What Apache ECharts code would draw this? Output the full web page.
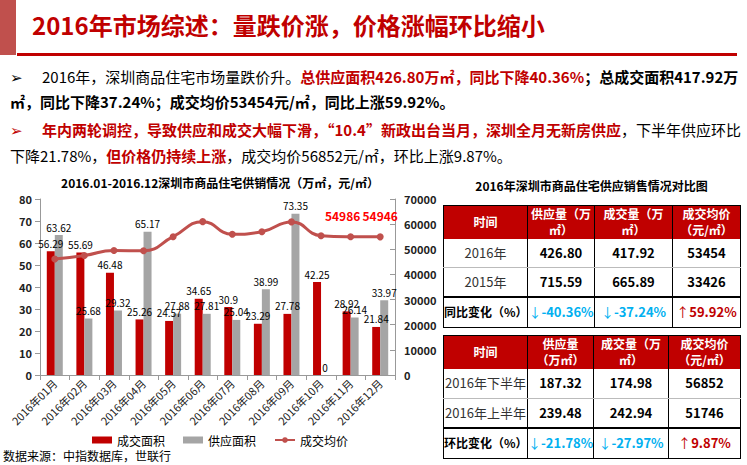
<!DOCTYPE html>
<html>
<head>
<meta charset="utf-8">
<script src="https://cdn.jsdelivr.net/npm/echarts@6/dist/echarts.min.js"></script>
<style>
  html, body { margin:0; padding:0; }
  body { width:747px; height:465px; position:relative; overflow:hidden; background:#fff;
         font-family:"Noto Sans CJK SC","Noto Sans",sans-serif; color:#000; }
  .abs { position:absolute; }
  .line { position:absolute; white-space:nowrap; font-size:15px; line-height:26px; }
  .r { color:#C00000; font-weight:bold; }
  .b { font-weight:bold; }
  table { position:absolute; border-collapse:collapse; table-layout:fixed; }
  td { text-align:center; vertical-align:middle; padding:0; white-space:nowrap; overflow:hidden;
       border-left:1px solid #000; border-right:1px solid #000; }
  tr.hd td { background:#C00000; color:#fff; font-weight:bold; font-size:12px; line-height:16px; border-top:1px solid #000; }
  tr.body td { border-bottom:1px solid #bbb; font-size:13px; line-height:16px; }
  tr.body td.lab { color:#333; }
  tr.body td.val { font-weight:bold; }
  tr.chg td { border-top:2px solid #000; border-bottom:1px solid #000; font-weight:bold; font-size:12px; line-height:16px; }
  td.dn { color:#00B0F0; font-size:13px !important; }
  td.up { color:#C00000; font-size:13px !important; }
  td.dn span, td.up span { font-weight:normal; }
</style>
</head>
<body>
<div class="abs" style="left:0;top:0;width:16px;height:55px;background:#C0504D;"></div>
<div class="abs" style="left:32px;top:8px;font-size:24px;font-weight:bold;color:#C00000;white-space:nowrap;line-height:34px;">2016年市场综述：量跌价涨，价格涨幅环比缩小</div>
<div class="abs" style="left:17px;top:53px;width:720px;height:3px;background:#C00000;"></div>

<div class="line" style="left:10px;top:64px;"><span style="display:inline-block;width:32px;">➢</span>2016年，深圳商品住宅市场量跌价升。<span class="r">总供应面积426.80万㎡，同比下降40.36%</span><span class="b">；总成交面积417.92万</span></div>
<div class="line" style="left:10px;top:89px;"><span class="b">㎡，同比下降37.24%；成交均价53454元/㎡，同比上涨59.92%。</span></div>
<div class="line" style="left:10px;top:117px;"><span class="r" style="display:inline-block;width:32px;font-weight:normal;">➢</span><span class="r">年内两轮调控，导致供应和成交大幅下滑，“10.4”新政出台当月，深圳全月无新房供应</span>，下半年供应环比</div>
<div class="line" style="left:10px;top:143px;">下降21.78%，<span class="r">但价格仍持续上涨</span>，成交均价56852元/㎡，环比上涨9.87%。</div>

<div id="chart" class="abs" style="left:0;top:170px;width:440px;height:295px;"></div>
<div class="abs" style="left:3px;top:449px;font-size:12px;line-height:14px;white-space:nowrap;color:#000;">数据来源：中指数据库，世联行</div>

<div class="abs" style="left:443px;top:178px;width:297px;text-align:center;font-size:12px;font-weight:bold;line-height:16px;white-space:nowrap;">2016年深圳市商品住宅供应销售情况对比图</div>

<table style="left:443px;top:205px;width:297px;">
  <colgroup><col style="width:84px"><col style="width:67px"><col style="width:78px"><col style="width:68px"></colgroup>
  <tr class="hd" style="height:33px;"><td>时间</td><td>供应量（万<br>㎡）</td><td>成交量（万<br>㎡）</td><td>成交均价<br>（元/㎡）</td></tr>
  <tr class="body" style="height:29px;"><td class="lab">2016年</td><td class="val">426.80</td><td class="val">417.92</td><td class="val">53454</td></tr>
  <tr class="body" style="height:29px;"><td class="lab">2015年</td><td class="val">715.59</td><td class="val">665.89</td><td class="val">33426</td></tr>
  <tr class="chg" style="height:31px;"><td>同比变化（%）</td><td class="dn"><span>↓</span>-40.36%</td><td class="dn"><span>↓</span>-37.24%</td><td class="up"><span>↑</span>59.92%</td></tr>
</table>

<table style="left:443px;top:335px;width:297px;">
  <colgroup><col style="width:84px"><col style="width:66px"><col style="width:75px"><col style="width:72px"></colgroup>
  <tr class="hd" style="height:33px;"><td>时间</td><td>供应量<br>（万㎡）</td><td>成交量（万<br>㎡）</td><td>成交均价<br>（元/㎡）</td></tr>
  <tr class="body" style="height:30px;"><td class="lab">2016年下半年</td><td class="val">187.32</td><td class="val">174.98</td><td class="val">56852</td></tr>
  <tr class="body" style="height:29px;"><td class="lab">2016年上半年</td><td class="val">239.48</td><td class="val">242.94</td><td class="val">51746</td></tr>
  <tr class="chg" style="height:31px;"><td>环比变化（%）</td><td class="dn"><span>↓</span>-21.78%</td><td class="dn"><span>↓</span>-27.97%</td><td class="up"><span>↑</span>9.87%</td></tr>
</table>

<script>
const months = ['2016年01月','2016年02月','2016年03月','2016年04月','2016年05月','2016年06月','2016年07月','2016年08月','2016年09月','2016年10月','2016年11月','2016年12月'];
const dealArea = [56.29, 55.69, 46.48, 25.26, 24.57, 34.65, 30.9, 23.29, 27.78, 42.25, 28.92, 21.84];
const supplyArea = [63.62, 25.68, 29.32, 65.17, 27.88, 27.81, 25.04, 38.99, 73.35, 0, 26.14, 33.97];
const avgPrice = [46100, 47500, 49500, 49400, 55000, 61000, 56000, 57000, 60900, 55400, 54986, 54946];
const labeledPriceMonths = ['2016年11月', '2016年12月'];
const leftTicks = {min: 0, max: 80, interval: 10};
const rightTicks = {min: 0, max: 70000, interval: 10000};

const FONT = '"Noto Sans CJK SC","Noto Sans",sans-serif';
const chart = echarts.init(document.getElementById('chart'), null, {renderer: 'svg'});
const priceLabelOffsets = {'2016年11月': [-8, 0], '2016年12月': [0, 0]};
const priceData = avgPrice.map((v, i) => labeledPriceMonths.includes(months[i])
  ? {value: v, label: {show: true, offset: priceLabelOffsets[months[i]]}} : v);

chart.setOption({
  animation: false,
  textStyle: {fontFamily: FONT},
  title: {
    text: '2016.01-2016.12深圳市商品住宅供销情况（万㎡，元/㎡）',
    left: 'center', top: 1,
    textStyle: {fontSize: 12, fontWeight: 'bold', color: '#000', fontFamily: FONT}
  },
  legend: {
    bottom: 14, left: 'center', itemWidth: 20, itemHeight: 7, itemGap: 18,
    textStyle: {fontSize: 12, color: '#000', fontFamily: FONT},
    data: [
      {name: '成交面积', icon: 'rect'},
      {name: '供应面积', icon: 'rect'},
      {name: '成交均价'}
    ]
  },
  grid: {left: 40, right: 45, top: 29, bottom: 90},
  xAxis: {
    type: 'category', data: months,
    axisLine: {lineStyle: {color: '#999'}},
    axisTick: {show: true, lineStyle: {color: '#999'}},
    axisLabel: {rotate: 45, interval: 0, fontSize: 11, color: '#222', margin: 6, fontFamily: FONT}
  },
  yAxis: [
    {type: 'value', min: leftTicks.min, max: leftTicks.max, interval: leftTicks.interval,
     axisLine: {show: true, lineStyle: {color: '#999'}},
     axisTick: {show: true, lineStyle: {color: '#999'}},
     splitLine: {show: false},
     axisLabel: {fontSize: 11, fontWeight: 'bold', color: '#222', margin: 8, fontFamily: FONT}},
    {type: 'value', min: rightTicks.min, max: rightTicks.max, interval: rightTicks.interval,
     axisLine: {show: true, lineStyle: {color: '#999'}},
     axisTick: {show: true, inside: true, lineStyle: {color: '#999'}},
     splitLine: {show: false},
     axisLabel: {fontSize: 11, fontWeight: 'bold', color: '#222', margin: 9, fontFamily: FONT,
                 formatter: v => String(v)}}
  ],
  series: [
    {name: '成交面积', type: 'bar', data: dealArea, barWidth: 8, barGap: '0%',
     itemStyle: {color: '#C00000'},
     label: {show: true, position: 'top', distance: 3, fontSize: 10, color: '#000', fontFamily: FONT}},
    {name: '供应面积', type: 'bar', data: supplyArea, barWidth: 8,
     itemStyle: {color: '#A5A5A5'},
     label: {show: true, position: 'top', distance: 3, fontSize: 10, color: '#000', fontFamily: FONT}},
    {name: '成交均价', type: 'line', yAxisIndex: 1, data: priceData, smooth: true,
     symbol: 'circle', symbolSize: 7,
     lineStyle: {color: '#C0504D', width: 3},
     itemStyle: {color: '#C0504D'},
     label: {show: false, position: 'top', distance: 12, fontSize: 12, fontWeight: 'bold', color: '#FF0000', fontFamily: FONT}}
  ]
});
</script>
</body>
</html>
